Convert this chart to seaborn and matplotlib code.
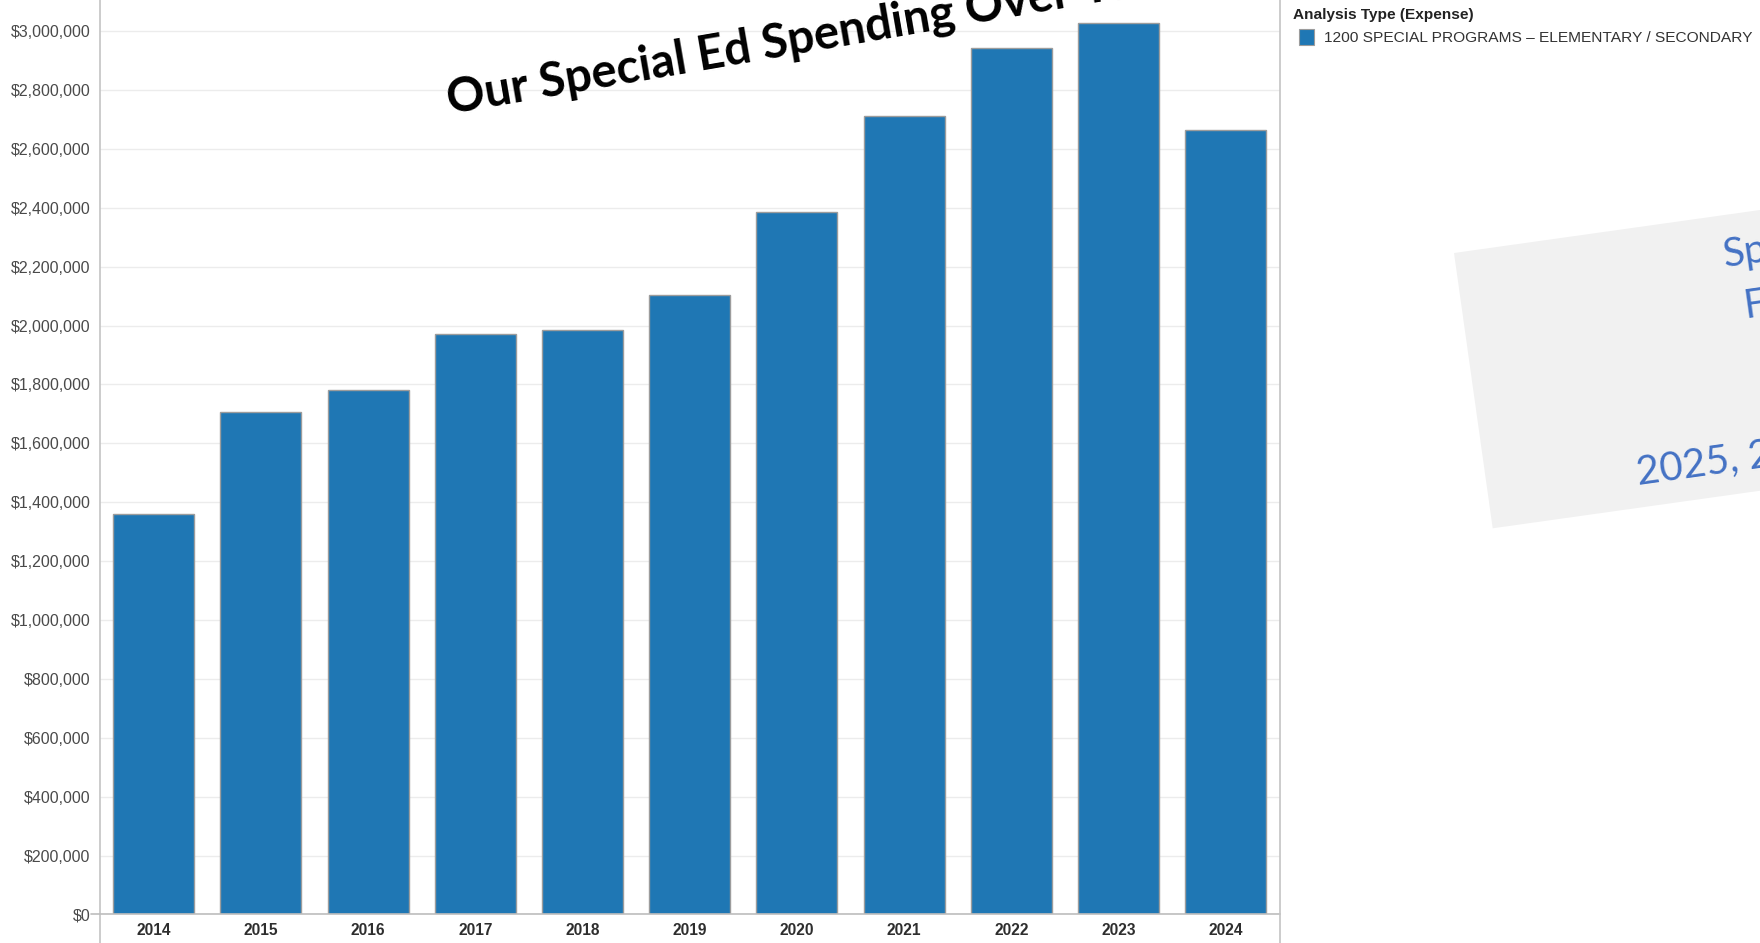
import matplotlib
matplotlib.use("Agg")
import matplotlib.pyplot as plt
from matplotlib.patches import Rectangle
from matplotlib.lines import Line2D
from matplotlib.ticker import FuncFormatter, FixedLocator
import numpy as np
import pandas as pd
import seaborn as sns

# ---- data -------------------------------------------------------------
years = ["2014", "2015", "2016", "2017", "2018", "2019",
         "2020", "2021", "2022", "2023", "2024"]
spending = [1360000, 1706000, 1781000, 1970000, 1985000, 2103000,
            2386000, 2712000, 2942000, 3028000, 2663000]
y_ticks = list(range(0, 3000001, 200000))
series_name = "1200 SPECIAL PROGRAMS \u2013 ELEMENTARY / SECONDARY"
legend_title = "Analysis Type (Expense)"
headline = "Our Special Ed Spending Over Time"
note_lines = ["Sp", "F", "2025, 2"]

df = pd.DataFrame({"year": years, "spending": spending})

# ---- figure -----------------------------------------------------------
W, H, DPI = 1760, 943, 100
sns.set_theme(style="white")
plt.rcParams["font.family"] = ["Liberation Sans", "DejaVu Sans"]

fig = plt.figure(figsize=(W / DPI, H / DPI), dpi=DPI)
fig.patch.set_facecolor("white")

ax_left, ax_right, ax_bottom = 100, 1279.5, 914.4
ax = fig.add_axes([ax_left / W, (H - ax_bottom) / H,
                   (ax_right - ax_left) / W, ax_bottom / H])

bar_blue = "#1f77b4"
sns.barplot(data=df, x="year", y="spending", color=bar_blue, width=0.755,
            edgecolor="#9c9c9c", linewidth=1.0, saturation=1, ax=ax)

ax.set_xlim(-0.5, len(years) - 0.5)
ax.set_ylim(0, 3106000)
ax.set_xlabel("")
ax.set_ylabel("")

# y axis: dollar ticks with light grid
ax.yaxis.set_major_locator(FixedLocator(y_ticks))
ax.yaxis.set_major_formatter(FuncFormatter(lambda v, _: f"${v:,.0f}"))
ax.grid(axis="y", color="#ececec", linewidth=1.0)
ax.set_axisbelow(True)
ax.tick_params(axis="y", which="major", direction="out", length=6, width=1,
               color="#c4c4c4", pad=1.0, labelsize=11.5, labelcolor="#4a4a4a")

# x axis: labels at centers, tick marks between categories
ax.set_xticks(range(len(years)))
ax.set_xticklabels(years, fontweight="bold")
ax.tick_params(axis="x", which="major", length=0, pad=6.5,
               labelsize=11.2, labelcolor="#2e2e2e")
ax.set_xticks(np.arange(0.5, len(years) - 0.5, 1.0), minor=True)
ax.tick_params(axis="x", which="minor", direction="out", length=6, width=1,
               color="#c4c4c4")

for s in ["top", "left", "right"]:
    ax.spines[s].set_visible(False)
ax.spines["bottom"].set_color("#bdbdbd")
ax.spines["bottom"].set_linewidth(1.2)

# full-height divider lines and the axis stub at the lower left
px = lambda x, y: (x / W, 1 - y / H)
fig.add_artist(Line2D([ax_left / W] * 2, [0, 1], color="#c4c4c4", lw=1.2,
                      transform=fig.transFigure))
fig.add_artist(Line2D([ax_right / W] * 2, [0, 1], color="#c4c4c4", lw=1.2,
                      transform=fig.transFigure))
fig.add_artist(Line2D([91 / W, ax_left / W], [1 - ax_bottom / H] * 2,
                      color="#bdbdbd", lw=1.2, transform=fig.transFigure))

# ---- legend -------------------------------------------------------------
fig.text(*px(1293, 14.5), legend_title, fontsize=11.05, fontweight="bold",
         color="#222222", ha="left", va="center")
fig.add_artist(Rectangle(px(1298.5, 45), 15.5 / W, 15.5 / H,
                         facecolor=bar_blue, edgecolor="#9c9c9c", lw=0.8,
                         transform=fig.transFigure))
fig.text(*px(1324, 37.5), series_name, fontsize=11.15, color="#333333",
         ha="left", va="center")

# ---- slanted headline ---------------------------------------------------
inch = fig.dpi_scale_trans
fig.text(450 / DPI, (H - 114) / DPI, headline, transform=inch,
         family=["Lato", "DejaVu Sans"], fontweight="bold", fontsize=34,
         color="black", rotation=9.8, rotation_mode="anchor",
         ha="left", va="baseline")

# ---- tilted note card ---------------------------------------------------
fig.add_artist(Rectangle((1492.7 / DPI, (H - 528.3) / DPI), 4.0, 2.78,
                         angle=8.0, facecolor="#f1f1f1", edgecolor="none",
                         transform=inch, zorder=0.5))
note_anchor = [(1725, 267), (1745, 318), (1638, 485)]
for txt, (x, y) in zip(note_lines, note_anchor):
    fig.text(x / DPI, (H - y) / DPI, txt, transform=inch,
             family=["Lato", "DejaVu Sans"], fontsize=29, color="#4472c4",
             rotation=8.0, rotation_mode="anchor", ha="left", va="baseline")

fig.savefig("out.png", dpi=DPI)
